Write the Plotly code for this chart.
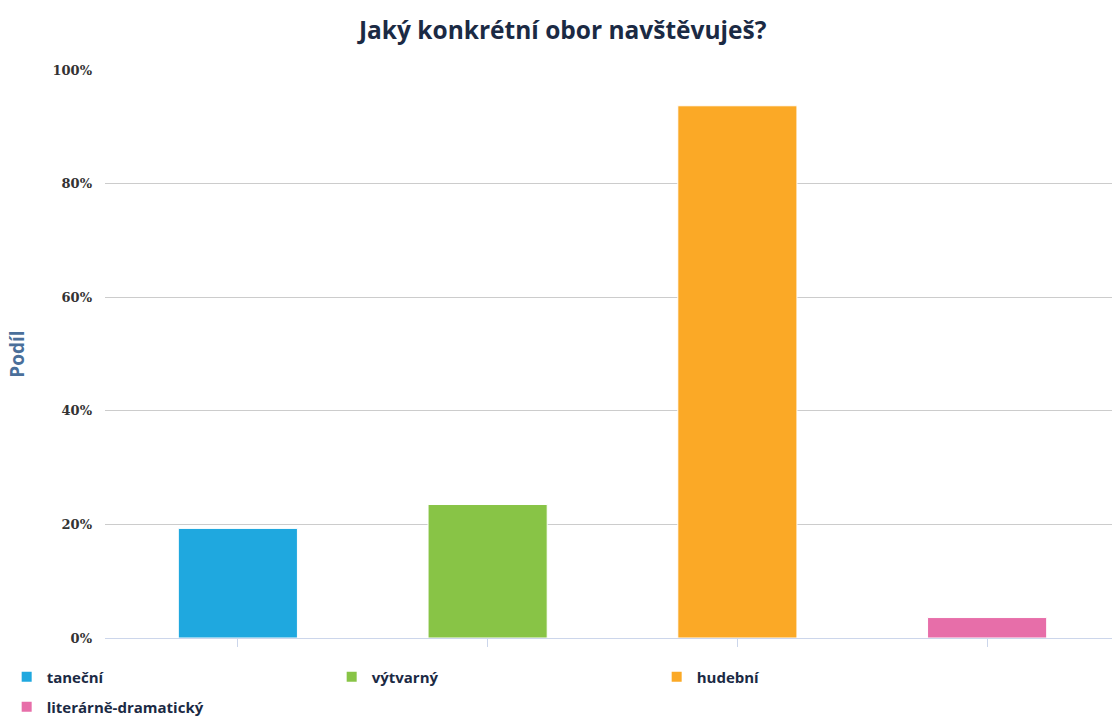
import plotly.graph_objects as go

categories = ["taneční", "výtvarný", "hudební", "literárně-dramatický"]
values = [19.3, 23.5, 93.7, 3.6]
colors = ["#1fa8df", "#88c446", "#fba926", "#e76ea9"]
tick_vals = [0, 20, 40, 60, 80, 100]
tick_text = ["0%", "20%", "40%", "60%", "80%", "100%"]

fig = go.Figure()
for i, (c, v, col) in enumerate(zip(categories, values, colors)):
    fig.add_trace(go.Bar(
        x=[i], y=[v], name="<b>" + c + "</b>", width=0.477,
        marker=dict(color=col, line=dict(color="#ffffff", width=1)),
        hoverinfo="y",
        legend="legend" if i < 3 else "legend2",
    ))

legend_common = dict(orientation="h", xanchor="left", xref="container",
                     yanchor="middle", yref="container",
                     entrywidth=280, entrywidthmode="pixels", itemsizing="constant",
                     font=dict(family="Open Sans", size=15, color="#1b2a44"),
                     traceorder="normal", bgcolor="rgba(0,0,0,0)")

fig.update_layout(
    width=1112, height=718,
    barmode="overlay",
    paper_bgcolor="white", plot_bgcolor="white",
    margin=dict(l=105, r=0, t=70, b=80, autoexpand=False),
    title=dict(text="<b>Jaký konkrétní obor navštěvuješ?</b>", x=0.506, xanchor="center",
               xref="container", y=0.958, yanchor="middle", yref="container",
               font=dict(family="Open Sans", size=24.5, color="#1b2a44")),
    xaxis=dict(range=[-0.532, 3.5], showticklabels=False, ticks="outside", ticklen=8,
               tickcolor="#ccd6eb", tickvals=[0, 1, 2, 3], showgrid=False,
               showline=True, linecolor="#ccd6eb", linewidth=1, zeroline=False),
    yaxis=dict(range=[0, 100], tickvals=tick_vals, ticktext=tick_text,
               showgrid=True, gridcolor="#cccccc", gridwidth=1, zeroline=False,
               tickfont=dict(family="DejaVu Serif", size=13, color="#333333", weight="bold"),
               ticklabelstandoff=12,
               title=dict(text="<b>Podíl</b>", standoff=22,
                          font=dict(family="Open Sans", size=19, color="#4a6f9a"))),
    legend=dict(x=0.006, y=1 - 677 / 718, **legend_common),
    legend2=dict(x=0.006, y=1 - 707 / 718, **legend_common),
    showlegend=True,
)

fig.write_html("out.html",
               config={"displayModeBar": False},
               post_script="document.body.style.margin='0';document.body.style.overflow='hidden';")
